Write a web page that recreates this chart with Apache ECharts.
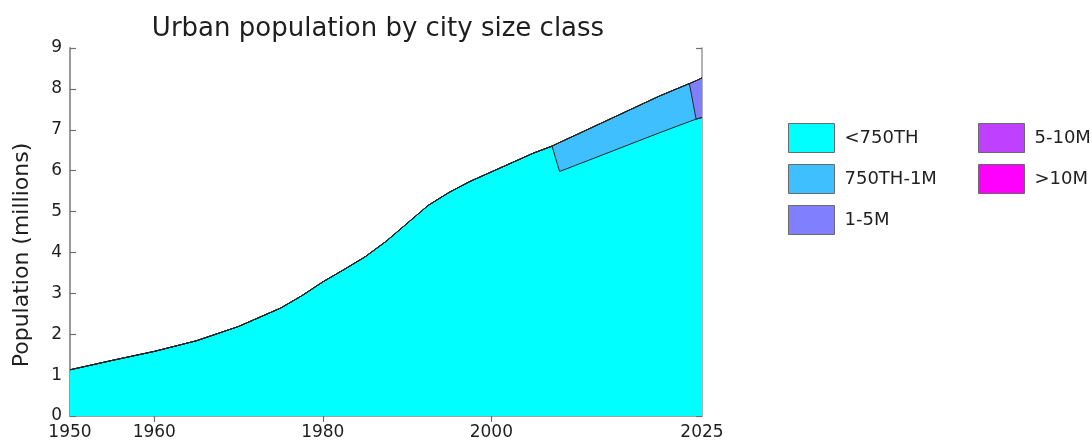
<!DOCTYPE html>
<html><head><meta charset="utf-8">
<script src="https://cdn.jsdelivr.net/npm/echarts@6/dist/echarts.min.js"></script>
<style>html,body{margin:0;padding:0;background:#fff}#c{width:1092px;height:442px}</style>
</head><body><div id="c"></div>
<script>
// ---- data ----
const years = [1950,1955,1960,1965,1970,1975,1977.5,1980,1982.5,1985,1987.5,1990,1992.5,1995,1997.5,2000,2002.5,2005,2007.2,2008.1,2010,2015,2020,2023.5,2024.3,2025];
const under750TH    = [1.13,1.36,1.58,1.84,2.19,2.64,2.94,3.28,3.58,3.89,4.27,4.71,5.15,5.47,5.74,5.97,6.20,6.43,6.60,5.98,6.13,6.53,6.93,7.20,7.26,7.30];
const from750THto1M = [0,0,0,0,0,0,0,0,0,0,0,0,0,0,0,0,0,0,0,0.71,0.74,0.82,0.90,0.93,0,0];
const from1to5M     = [0,0,0,0,0,0,0,0,0,0,0,0,0,0,0,0,0,0,0,0,0,0,0,0,0.94,0.97];
const from5to10M    = [0,0,0,0,0,0,0,0,0,0,0,0,0,0,0,0,0,0,0,0,0,0,0,0,0,0];
const over10M       = [0,0,0,0,0,0,0,0,0,0,0,0,0,0,0,0,0,0,0,0,0,0,0,0,0,0];
const seriesNames   = ['<750TH','750TH-1M','1-5M','5-10M','>10M'];
const seriesColors  = ['#00ffff','#40bfff','#8080ff','#bf40ff','#ff00ff'];
const xTickLabels   = [1950,1960,1980,2000,2025];
const xTopTicks     = [1960,1980,2000];

const FONT = 'DejaVu Sans';
const allValues = [under750TH, from750THto1M, from1to5M, from5to10M, over10M];

// cumulative totals (stacked areas), drawn from the top band down
const cumulative = [];
allValues.forEach((vals, k) => {
  cumulative.push(vals.map((v, i) => v + (k > 0 ? cumulative[k - 1][i] : 0)));
});

const series = [];
for (let k = allValues.length - 1; k >= 0; k--) {
  series.push({
    name: seriesNames[k],
    type: 'line',
    color: seriesColors[k],
    symbol: 'none',
    showSymbol: false,
    smooth: false,
    lineStyle: { color: '#262626', width: 1 },
    areaStyle: { color: seriesColors[k], opacity: 1 },
    itemStyle: { color: seriesColors[k] },
    emphasis: { disabled: true },
    data: years.map((y, i) => [y, cumulative[k][i]]),
    xAxisIndex: 0, yAxisIndex: 0
  });
}

const legendBase = {
  orient: 'vertical', top: 118, itemWidth: 46, itemHeight: 29, itemGap: 11,
  icon: 'rect', selectedMode: false,
  itemStyle: { borderColor: '#6a6a6a', borderWidth: 1 },
  textStyle: { fontFamily: FONT, fontSize: 18, color: '#222', padding: [0,0,0,5] }
};

const tickStyle = { color: '#707070', width: 1.2 };

const chart = echarts.init(document.getElementById('c'));
chart.setOption({
  animation: false,
  backgroundColor: '#fff',
  title: {
    text: 'Urban population by city size class',
    left: 373, top: 11, textAlign: 'center',
    textStyle: { fontFamily: FONT, fontSize: 26, fontWeight: 'normal', color: '#1e1e1e' }
  },
  legend: [
    Object.assign({}, legendBase, { left: 783, data: seriesNames.slice(0,3) }),
    Object.assign({}, legendBase, { left: 973, data: seriesNames.slice(3) })
  ],
  grid: { left: 70, top: 48, width: 632, height: 368, containLabel: false, outerBoundsMode: 'none' },
  xAxis: [
    {
      type: 'value', min: 1950, max: 2025, position: 'bottom',
      axisLine: { show: true, lineStyle: { color: '#9a9a9a', width: 1.5 } },
      axisTick: { show: false },
      axisLabel: { customValues: xTickLabels, formatter: v => String(v), fontFamily: FONT, fontSize: 17, color: '#1e1e1e', margin: 8 },
      splitLine: { show: false }
    },
    {
      type: 'value', min: 1950, max: 2025, position: 'top',
      axisLine: { show: true, lineStyle: { color: '#9a9a9a', width: 1.5 } },
      axisTick: { show: true, inside: true, length: 6, customValues: xTopTicks, lineStyle: tickStyle },
      axisLabel: { show: false },
      splitLine: { show: false }
    }
  ],
  yAxis: [
    {
      type: 'value', min: 0, max: 9, interval: 1, position: 'left',
      name: 'Population (millions)', nameLocation: 'middle', nameGap: 37, nameRotate: 90,
      nameTextStyle: { fontFamily: FONT, fontSize: 22, color: '#1e1e1e', padding: [0, 46, 0, 0] },
      axisLine: { show: true, lineStyle: { color: '#9a9a9a', width: 2 } },
      axisTick: { show: true, inside: true, length: 6, lineStyle: tickStyle },
      axisLabel: { fontFamily: FONT, fontSize: 17, color: '#1e1e1e', margin: 8 },
      splitLine: { show: false }
    },
    {
      type: 'value', min: 0, max: 9, interval: 1, position: 'right',
      axisLine: { show: true, lineStyle: { color: '#9a9a9a', width: 1.5 } },
      axisTick: { show: true, inside: true, length: 6, lineStyle: tickStyle },
      axisLabel: { show: false },
      splitLine: { show: false }
    }
  ],
  series: series
});
</script></body></html>
